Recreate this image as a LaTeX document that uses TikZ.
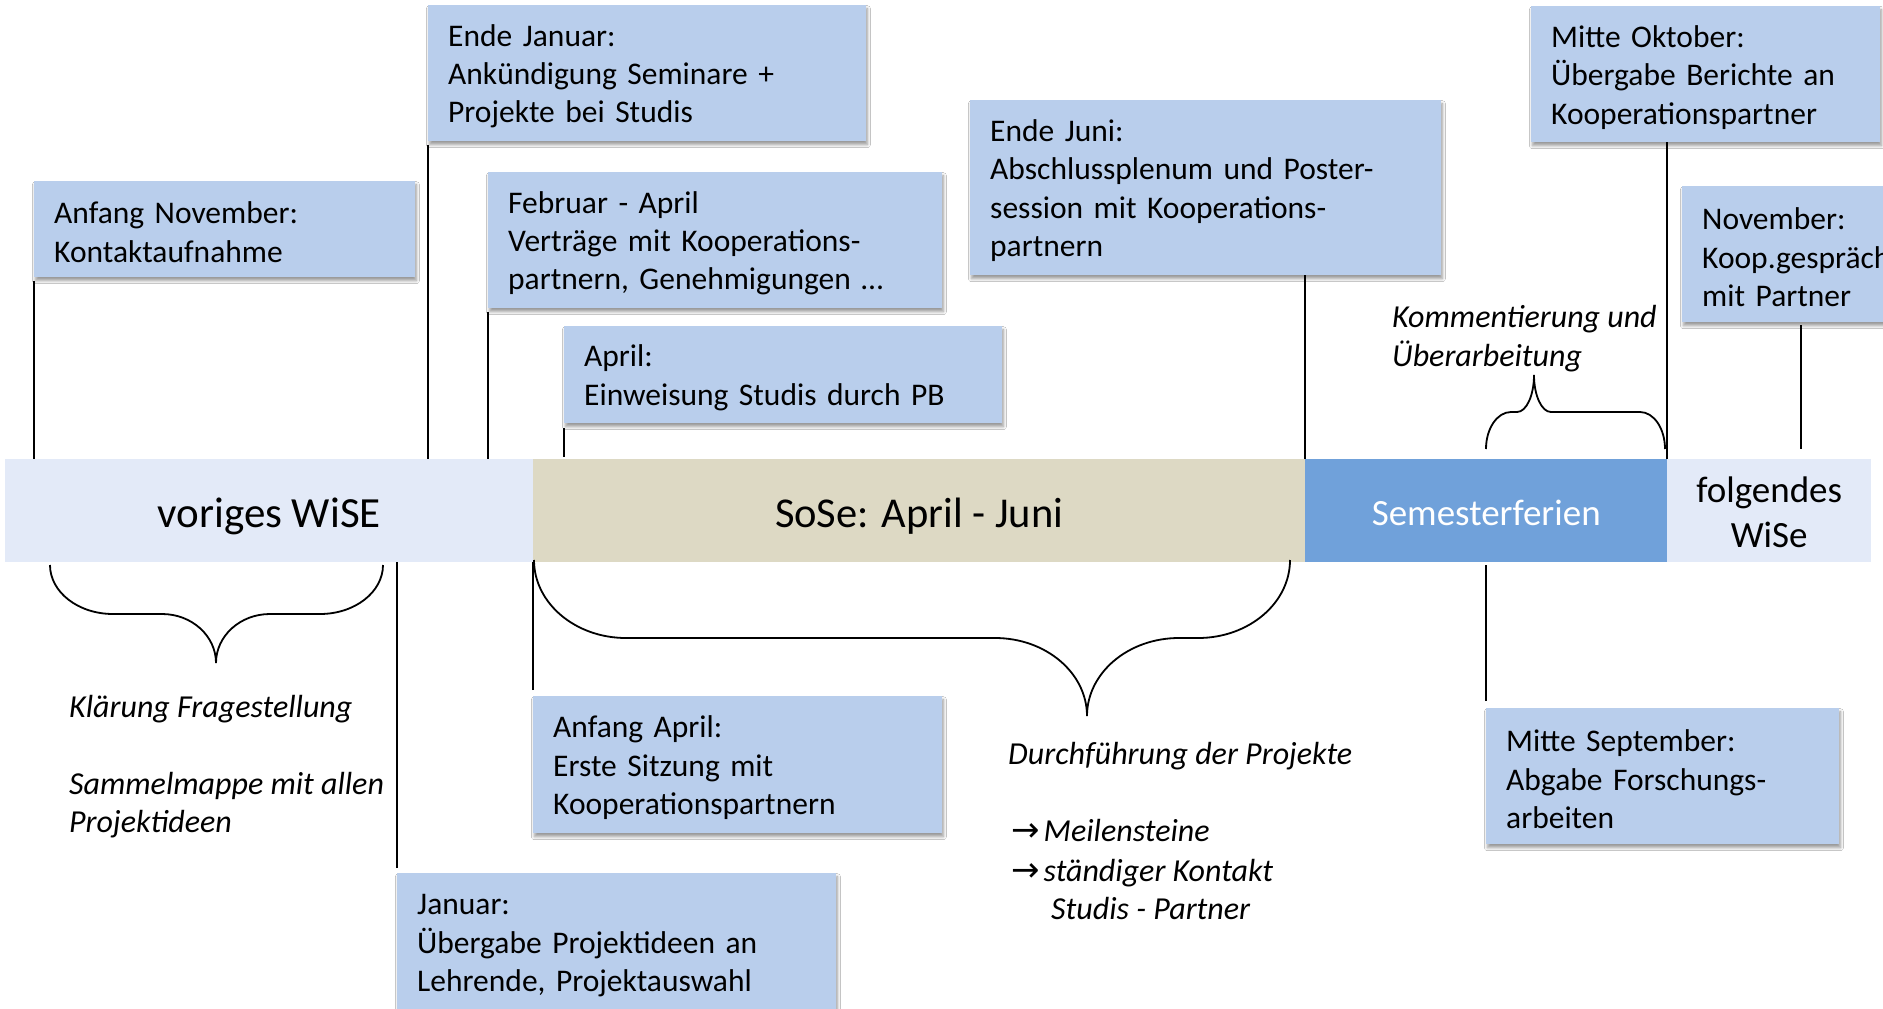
\documentclass[tikz,border=0pt]{standalone}
\usepackage{fontspec}
\setmainfont{Carlito}
\newfontfamily\symf{DejaVu Sans}
\usetikzlibrary{shadows.blur}
\definecolor{boxblue}{RGB}{185,206,236}
\definecolor{barlight}{RGB}{227,234,248}
\definecolor{bartan}{RGB}{221,217,196}
\definecolor{barblue}{RGB}{112,161,218}

\newcommand\tlbrace[8]{% #1 opts, #2 x1, #3 x2, #4 xt, #5 y0, #6 ry, #7 rx ends, #8 rx tip
  \pgfmathsetmacro\bYa{#5+0.5523*#6}%
  \pgfmathsetmacro\bYm{#5+#6}%
  \pgfmathsetmacro\bYt{#5+2*#6}%
  \pgfmathsetmacro\bYb{#5+2*#6-0.5523*#6}%
  \pgfmathsetmacro\bXa{#2+0.4477*#7}%
  \pgfmathsetmacro\bXb{#2+#7}%
  \pgfmathsetmacro\bXc{#4-#8}%
  \pgfmathsetmacro\bXd{#4-0.4477*#8}%
  \pgfmathsetmacro\bXe{#4+0.4477*#8}%
  \pgfmathsetmacro\bXf{#4+#8}%
  \pgfmathsetmacro\bXg{#3-#7}%
  \pgfmathsetmacro\bXh{#3-0.4477*#7}%
  \draw[#1] (#2,#5) .. controls (#2,\bYa) and (\bXa,\bYm) .. (\bXb,\bYm)
    -- (\bXc,\bYm) .. controls (\bXd,\bYm) and (#4,\bYb) .. (#4,\bYt)
    .. controls (#4,\bYb) and (\bXe,\bYm) .. (\bXf,\bYm)
    -- (\bXg,\bYm) .. controls (\bXh,\bYm) and (#3,\bYa) .. (#3,#5);
}

\tikzset{
  box/.style={fill=boxblue, inner xsep=20pt, inner ysep=0pt, align=left,
    anchor=north west, font=\fontsize{31.5}{38.4}\selectfont,
    execute at begin node={\rule{0pt}{28pt}},
    blur shadow={shadow xshift=1.2pt, shadow yshift=-3.5pt, shadow blur radius=3pt,
      shadow blur steps=6, shadow opacity=40}},
  box2/.style={box, execute at begin node={\rule{0pt}{24pt}}},
  barseg/.style={anchor=north west, inner sep=0pt, minimum height=103pt, align=center},
  ital/.style={anchor=west, inner sep=0pt, font=\fontsize{32}{38.4}\selectfont\itshape,
    text height=23pt, text depth=8pt},
  conn/.style={draw=black, line width=1.3pt},
  brc/.style={draw=black, line width=1.8pt},
}

\begin{document}
\begin{tikzpicture}[x=1pt,y=-1pt]
\useasboundingbox (0,0) rectangle (1883,1009);
\fill[white] (0,0) rectangle (1883,1009);
\clip (0,0) rectangle (1883,1009);

% timeline bar
\node[barseg, fill=barlight, minimum width=528pt, font=\fontsize{43}{50}\selectfont,
  text height=39pt, text depth=6pt] (wise1) at (5,459) {voriges WiSE};
\node[barseg, fill=bartan, minimum width=772pt, font=\fontsize{42.5}{50}\selectfont,
  text height=39pt, text depth=6pt] (sose) at (533,459) {SoSe: April - Juni};
\node[barseg, fill=barblue, minimum width=362pt, text=white, font=\fontsize{37}{44}\selectfont,
  text height=34pt, text depth=5pt] (ferien) at (1305,459) {Semesterferien};
\node[barseg, fill=barlight, minimum width=204pt, font=\fontsize{37}{44.5}\selectfont] (wise2) at (1667,459) {\rule{0pt}{29pt}folgendes\\WiSe};

% boxes above
\node[box2, text width=341pt, minimum height=96pt] (anov) at (34,181) {Anfang\hspace{10.5pt}November:\\Kontaktaufnahme};
\node[box, text width=398pt, minimum height=136pt] (ejan) at (428,5) {Ende Januar:\\Ankündigung Seminare +\\Projekte bei Studis};
\node[box, text width=414pt, minimum height=136pt] (febr) at (488,172) {Februar - April\\Verträge mit Kooperations-\\partnern, Genehmigungen …};
\node[box2, text width=398pt, minimum height=97pt] (apr) at (564,326) {April:\\Einweisung Studis durch PB};
\node[box, text width=431pt, minimum height=175pt] (ejuni) at (970,100) {Ende Juni:\\Abschlussplenum und Poster-\\session mit Kooperations-\\partnern};
\node[box, text width=309pt, minimum height=136pt] (mokt) at (1531,6) {Mitte Oktober:\\Übergabe Berichte an\\Kooperationspartner};
\node[box, text width=260pt, minimum height=136pt] (nov) at (1682,186) {November:\\Koop.gespräch\\mit Partner};

% boxes below
\node[box, text width=369pt, minimum height=137pt] (aapr) at (533,696) {Anfang April:\\Erste Sitzung mit\\Kooperationspartnern};
\node[box, text width=399pt, minimum height=137pt] (jan) at (397,873) {Januar:\\Übergabe Projektideen an\\Lehrende, Projektauswahl};
\node[box, text width=313pt, minimum height=136pt] (msep) at (1486,708) {Mitte September:\\Abgabe Forschungs-\\arbeiten};

% connectors
\coordinate (novend) at (1801,449);
\draw[conn, shorten <=4pt] (anov.south west) -- (anov.south west |- wise1.north);
\draw[conn, shorten <=4pt] (ejan.south west) -- (ejan.south west |- wise1.north);
\draw[conn, shorten <=4pt] (febr.south west) -- (febr.south west |- wise1.north);
\draw[conn, shorten <=5pt, shorten >=2pt] (apr.south west) -- (apr.south west |- sose.north);
\draw[conn] (ferien.north west) -- (ferien.north west |- ejuni.south);
\draw[conn] (wise2.north west) -- (wise2.north west |- mokt.south);
\draw[conn, shorten <=3pt] (novend |- nov.south) -- (novend);
\draw[conn, shorten <=5pt] (jan.north west) -- (jan.north west |- wise1.south);
\draw[conn, shorten <=6pt] (aapr.north west) -- (aapr.north west |- sose.south);
\draw[conn, shorten <=7pt, shorten >=3pt] (msep.north west) -- (msep.north west |- ferien.south);

% braces
\tlbrace{brc}{50}{383}{216}{565}{49}{63}{54}
\tlbrace{brc}{534}{1290}{1087}{560}{78}{92}{92}
\tlbrace{brc}{1486}{1665}{1534}{449}{-37}{25}{17}

% italic labels
\node[ital] (kl) at (69,710) {Klärung Fragestellung};
\node[ital] (sm1) at (69,787) {Sammelmappe mit allen};
\node[ital] (sm2) at (69,825) {Projektideen};
\node[ital] (ko1) at (1392,320) {Kommentierung und};
\node[ital] (ko2) at (1392,359) {Überarbeitung};
\node[ital] (du) at (1008,757) {Durchführung der Projekte};
\node[ital] (me) at (1011,834) {{\upshape\symf\fontsize{34}{36}\selectfont →}\kern4pt Meilensteine};
\node[ital] (st) at (1011,874) {{\upshape\symf\fontsize{34}{36}\selectfont →}\kern4pt ständiger Kontakt};
\node[ital] (sp) at (1051,912) {Studis - Partner};
\end{tikzpicture}
\end{document}
